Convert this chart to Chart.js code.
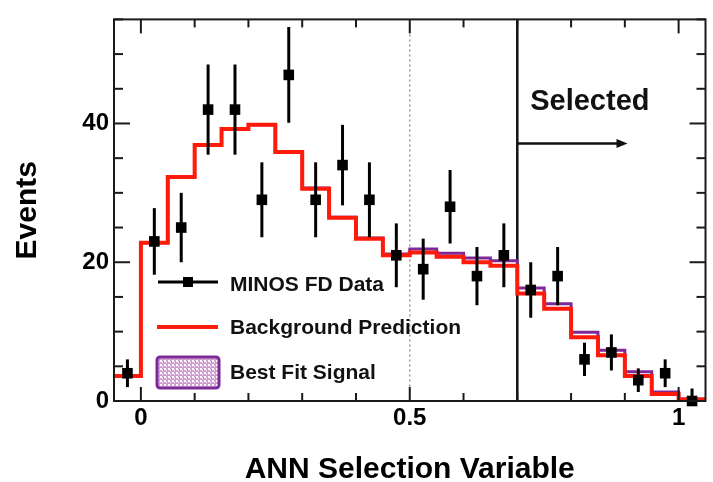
<!DOCTYPE html>
<html>
<head>
<meta charset="utf-8">
<script src="https://cdn.jsdelivr.net/npm/chart.js@4.4.1/dist/chart.umd.min.js"></script>
<style>
  html, body { margin: 0; padding: 0; background: #fff; }
  #wrap { width: 713px; height: 482px; }
</style>
</head>
<body>
<div id="wrap"><canvas id="annChart" width="713" height="482"></canvas></div>
<script>
// ANN selection variable, far detector: data vs background + fitted signal

const binEdges = [-0.05, 0, 0.05, 0.1, 0.15, 0.2, 0.25, 0.3, 0.35, 0.4, 0.45, 0.5,
                  0.55, 0.6, 0.65, 0.7, 0.75, 0.8, 0.85, 0.9, 0.95, 1, 1.05];

const dataCounts = [4, 23, 25, 42, 42, 29, 47, 29, 34, 29, 21,
                    19, 28, 18, 21, 16, 18, 6, 7, 3, 4, 0];
const dataErrLow = [2.0, 4.8, 5.0, 6.5, 6.5, 5.4, 6.9, 5.4, 5.8, 5.4, 4.6,
                    4.4, 5.3, 4.2, 4.6, 4.0, 4.2, 2.4, 2.6, 1.7, 2.0, 0];
const dataErrHigh = [2.0, 4.8, 5.0, 6.5, 6.5, 5.4, 6.9, 5.4, 5.8, 5.4, 4.6,
                     4.4, 5.3, 4.2, 4.6, 4.0, 4.2, 2.4, 2.6, 1.7, 2.0, 1.8];

const background = [3.6, 22.8, 32.3, 36.9, 39.2, 39.8, 35.9, 30.6, 26.4, 23.4, 21.0,
                    21.4, 20.8, 20.0, 19.5, 15.5, 13.3, 9.2, 6.6, 3.6, 1.0, 0.2];
const signal = [0, 0, 0, 0, 0, 0, 0, 0.1, 0.1, 0.1, 0.2,
                0.5, 0.5, 0.6, 0.7, 0.8, 0.7, 0.7, 0.7, 0.6, 0.3, 0.1];

const xTickValues = [0, 0.5, 1];
const yTickValues = [0, 20, 40];
// inner tick marks (minor every 0.1 / 5 events)
const xMarkValues = [0, 0.1, 0.2, 0.3, 0.4, 0.5, 0.6, 0.7, 0.8, 0.9, 1];
const yMarkValues = [0, 5, 10, 15, 20, 25, 30, 35, 40, 45, 50, 55];

const cutValue = 0.7;
const midLine = 0.5;

const RED = '#ff1a0a';
const PURPLE = '#7d2a98';
const FONT = "'Liberation Sans', Arial, Helvetica, sans-serif";

const binCenters = dataCounts.map((_, i) => (binEdges[i] + binEdges[i + 1]) / 2);

// step histogram: one point per left edge, plus the closing right edge
function histPoints(vals) {
    const pts = vals.map((v, i) => ({ x: binEdges[i], y: v }));
    pts.push({ x: binEdges[vals.length], y: vals[vals.length - 1] });
    return pts;
}

const stacked = background.map((b, i) => b + signal[i]);

function hatchPattern(ctx) {
    const c = document.createElement('canvas');
    c.width = 4; c.height = 4;
    const p = c.getContext('2d');
    p.fillStyle = '#cf9fd2';
    p.fillRect(0, 0, 4, 4);
    p.fillStyle = '#ffffff';
    p.fillRect(0, 0, 2, 2);
    p.fillRect(2, 2, 1, 1);
    return ctx.createPattern(c, 'repeat');
}

function segment(ctx, x0, y0, x1, y1) {
    ctx.beginPath();
    ctx.moveTo(x0, y0);
    ctx.lineTo(x1, y1);
    ctx.stroke();
}

const rootStyle = {
    id: 'rootStyle',
    beforeDatasetsDraw(chart) {
        const { ctx, chartArea: a, scales: { x } } = chart;
        ctx.save();
        // dotted guide at 0.5
        ctx.strokeStyle = '#9a9a9a';
        ctx.lineWidth = 1.5;
        ctx.setLineDash([2, 3]);
        segment(ctx, x.getPixelForValue(midLine), a.top, x.getPixelForValue(midLine), a.bottom);
        ctx.setLineDash([]);
        // selection cut
        ctx.strokeStyle = '#111';
        ctx.lineWidth = 2.5;
        segment(ctx, x.getPixelForValue(cutValue), a.top, x.getPixelForValue(cutValue), a.bottom);
        ctx.restore();
    },
    beforeDatasetDraw(chart, args) {
        if (chart.data.datasets[args.index].label !== 'MINOS FD Data') return;
        const { ctx, scales: { x, y } } = chart;
        ctx.save();
        ctx.strokeStyle = '#000';
        ctx.lineWidth = 3;
        binCenters.forEach((c, i) => {
            const px = x.getPixelForValue(c);
            segment(ctx, px, y.getPixelForValue(dataCounts[i] - dataErrLow[i]),
                    px, y.getPixelForValue(dataCounts[i] + dataErrHigh[i]));
        });
        ctx.restore();
    },
    afterDraw(chart) {
        const { ctx, chartArea: a, scales: { x, y } } = chart;
        ctx.save();
        ctx.setLineDash([]);

        // frame and inward ticks on all four sides
        ctx.strokeStyle = '#1a1a1a';
        ctx.lineWidth = 2;
        ctx.strokeRect(a.left, a.top, a.right - a.left, a.bottom - a.top);
        xMarkValues.forEach((v, k) => {
            const px = x.getPixelForValue(v);
            const len = k % 5 === 0 ? 14 : 8;
            segment(ctx, px, a.bottom, px, a.bottom - len);
            segment(ctx, px, a.top, px, a.top + len);
        });
        yMarkValues.forEach(v => {
            const py = y.getPixelForValue(v);
            const len = v % 20 === 0 ? 16 : 9;
            segment(ctx, a.left, py, a.left + len, py);
            segment(ctx, a.right, py, a.right - len, py);
        });

        // "Selected" arrow
        const ay = y.getPixelForValue(37.1);
        const ax0 = x.getPixelForValue(cutValue);
        const ax1 = x.getPixelForValue(0.905);
        ctx.strokeStyle = '#111';
        ctx.fillStyle = '#111';
        ctx.lineWidth = 2.5;
        segment(ctx, ax0, ay, ax1 - 8, ay);
        ctx.beginPath();
        ctx.moveTo(ax1, ay); ctx.lineTo(ax1 - 11, ay - 4.5); ctx.lineTo(ax1 - 11, ay + 4.5);
        ctx.closePath();
        ctx.fill();

        ctx.font = 'bold 29px ' + FONT;
        ctx.textAlign = 'left';
        ctx.textBaseline = 'middle';
        ctx.fillText('Selected', x.getPixelForValue(0.724), y.getPixelForValue(43.1));

        // legend
        ctx.font = 'bold 21px ' + FONT;
        ctx.fillStyle = '#111';
        ctx.fillText('MINOS FD Data', 230, 285);
        ctx.fillText('Background Prediction', 230, 328);
        ctx.fillText('Best Fit Signal', 230, 373);

        ctx.strokeStyle = '#000';
        ctx.lineWidth = 3;
        segment(ctx, 158, 282, 218, 282);
        ctx.fillStyle = '#000';
        ctx.fillRect(183, 277, 10, 10);

        ctx.strokeStyle = RED;
        ctx.lineWidth = 4;
        segment(ctx, 157, 327, 218, 327);

        ctx.fillStyle = hatchPattern(ctx);
        ctx.strokeStyle = PURPLE;
        ctx.lineWidth = 3;
        ctx.beginPath();
        ctx.roundRect(157, 357, 62, 31, 3);
        ctx.fill();
        ctx.stroke();

        ctx.restore();
    }
};

const tickFont = { family: FONT, weight: 'bold', size: 24 };
const titleFont = { family: FONT, weight: 'bold', size: 30 };

new Chart(document.getElementById('annChart'), {
    type: 'line',
    data: {
        datasets: [
            {
                label: 'MINOS FD Data',
                data: binCenters.map((c, i) => ({ x: c, y: dataCounts[i] })),
                showLine: false,
                pointStyle: 'rect',
                pointRadius: 7.5,
                backgroundColor: '#000',
                borderColor: '#000',
                borderWidth: 0,
                clip: false,
                order: 1
            },
            {
                label: 'Background Prediction',
                data: histPoints(background),
                stepped: true,
                borderColor: RED,
                borderWidth: 4,
                borderJoinStyle: 'miter',
                pointRadius: 0,
                fill: false,
                order: 2
            },
            {
                label: 'Best Fit Signal',
                data: histPoints(stacked),
                stepped: true,
                borderColor: PURPLE,
                borderWidth: 3,
                borderJoinStyle: 'miter',
                pointRadius: 0,
                fill: false,
                order: 3
            }
        ]
    },
    options: {
        responsive: false,
        animation: false,
        layout: { padding: { left: 0, top: 16, right: 5, bottom: 0 } },
        plugins: { legend: { display: false }, tooltip: { enabled: false } },
        scales: {
            x: {
                type: 'linear',
                min: -0.05,
                max: 1.05,
                grid: { display: false, drawTicks: false },
                border: { display: false },
                afterBuildTicks: s => { s.ticks = xTickValues.map(v => ({ value: v })); },
                afterFit: s => { s.height = 81; },
                ticks: {
                    padding: 3, color: '#000', font: tickFont, maxRotation: 0, autoSkip: false,
                    callback: v => String(v)
                },
                title: {
                    display: true,
                    text: 'ANN Selection Variable',
                    color: '#000',
                    font: { ...titleFont, lineHeight: 0.8 },
                    padding: 0
                }
            },
            y: {
                min: 0,
                max: 55,
                grid: { display: false, drawTicks: false },
                border: { display: false },
                afterBuildTicks: s => { s.ticks = yTickValues.map(v => ({ value: v })); },
                afterFit: s => { s.width = 114; },
                ticks: { padding: 5, color: '#000', font: tickFont, autoSkip: false, callback: v => String(v) },
                title: {
                    display: true,
                    text: 'Events',
                    color: '#000',
                    font: { ...titleFont, lineHeight: 1.2 },
                    padding: { top: 10, bottom: 0 }
                }
            }
        }
    },
    plugins: [rootStyle]
});
</script>
</body>
</html>
